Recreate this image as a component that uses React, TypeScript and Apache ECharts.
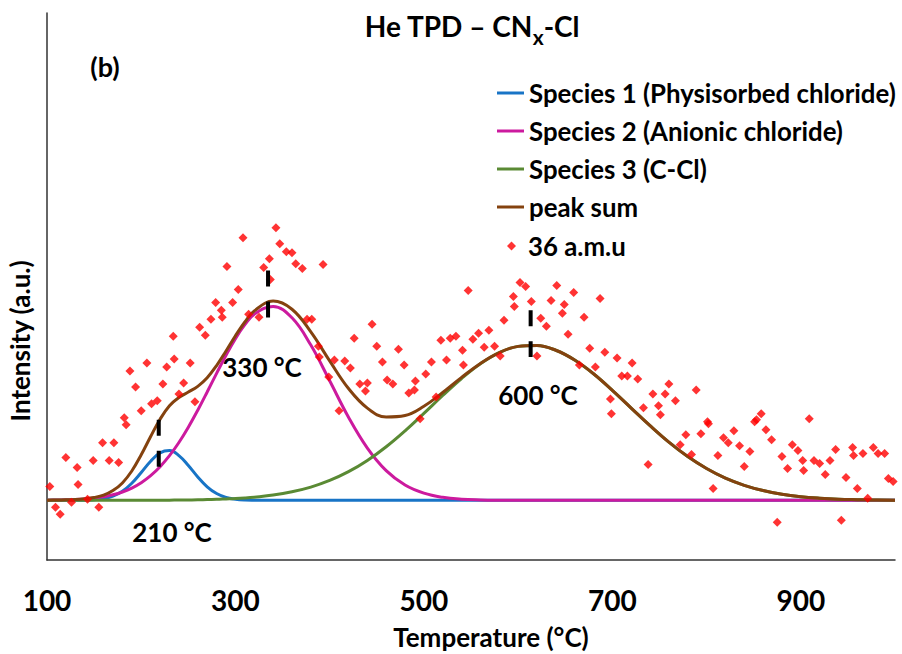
import React, { useEffect, useRef } from "react";
import * as echarts from "echarts";

// Temperature grid (°C) for the fitted curves
const temps = [100,110,120,130,140,150,160,170,180,190,200,210,220,230,240,250,260,270,280,290,300,310,320,340,360,380,400,420,440,460,480,500,520,540,560,580,600,620,640,660,680,700,720,740,760,780,800,820,840,860,880,900,920,940,960,980,1000];

const species1 = [0,0,0,0,0.002,0.006,0.016,0.042,0.091,0.172,0.28,0.393,0.477,0.5,0.45,0.35,0.235,0.136,0.068,0.029,0.011,0.003,0.001,
  0,0,0,0,0,0,0,0,0,0,0,0,0,0,0,0,0,0,0,0,0,0,0,0,0,0,0,0,0,0,0,0,0,0];

const species2 = [0.002,0.003,0.005,0.008,0.014,0.023,0.036,0.056,0.084,0.123,0.177,0.248,0.338,0.449,0.581,0.735,0.906,1.089,1.277,1.459,1.626,1.766,1.872,
  1.95,1.835,1.561,1.202,0.836,0.526,0.299,0.154,0.072,0.03,0.011,0.004,0.001,
  0,0,0,0,0,0,0,0,0,0,0,0,0,0,0,0,0,0,0,0,0];

const species3 = [0,0,0,0,0,0,0,0,0,0,0.001,0.001,0.001,0.002,0.003,0.004,0.005,0.008,0.01,0.014,0.018,0.024,0.032,
  0.053,0.086,0.133,0.2,0.288,0.401,0.539,0.699,0.874,1.054,1.225,1.373,1.485,1.548,1.557,1.509,1.411,1.273,1.106,0.928,0.751,0.585,0.44,0.32,0.223,0.151,0.098,0.061,0.037,0.022,0.012,0.007,0.003,0.002];

// 36 a.m.u measured points [temperature, intensity]
const amuPoints = [
  [103,0.14],[109,-0.07],[114,-0.14],[120,0.43],[126,-0.02],[132,0.33],[133,0.16],[143,0.01],[149,0.40],[155,-0.07],
  [159,0.58],[166,0.40],[171,0.58],[176,0.38],[182,0.83],[184,0.76],[188,1.30],[194,1.14],[200,0.90],[206,1.38],
  [211,0.97],[217,1.00],[223,1.17],[227,1.34],[234,1.65],[235,1.42],[240,1.07],[245,1.18],[252,1.38],[257,0.99],
  [262,1.74],[268,1.66],[274,1.82],[279,1.99],[285,1.91],[286,1.84],[291,2.35],[297,1.99],[303,2.12],[308,2.64],
  [314,1.87],[325,1.84],[330,2.34],[336,2.43],[337,2.22],[343,2.74],[347,2.58],[354,2.50],[360,2.49],[364,2.38],
  [371,2.33],[376,1.82],[381,1.82],[388,1.55],[389,1.44],[393,2.37],[399,1.24],[405,1.41],[410,0.90],[416,1.40],
  [422,1.33],[426,1.63],[432,1.17],[438,1.10],[440,1.18],[445,1.77],[450,1.55],[456,1.39],[461,1.21],[467,1.17],
  [473,1.52],[479,1.36],[484,1.08],[490,1.11],[491,1.20],[496,0.82],[502,1.27],[508,1.39],[513,1.04],[518,1.61],
  [524,1.41],[528,1.63],[534,1.65],[541,1.51],[542,1.36],[547,2.11],[552,1.62],[558,1.68],[564,1.54],[569,1.71],
  [575,1.55],[581,1.45],[585,1.81],[595,2.05],[596,1.95],[602,2.19],[608,2.15],[614,2.00],[620,1.45],[624,1.83],
  [630,1.75],[635,2.01],[641,2.16],[647,1.88],[649,1.97],[653,1.67],[659,2.09],[665,1.36],[670,1.84],[676,1.53],
  [682,1.34],[687,2.03],[692,1.49],[698,1.02],[699,0.87],[705,1.43],[710,1.25],[716,1.25],[721,1.38],[727,1.22],
  [733,0.93],[738,0.36],[743,1.07],[749,0.95],[751,0.86],[756,1.07],[760,1.17],[767,1.00],[772,0.56],[778,0.66],
  [784,0.46],[789,1.11],[794,0.67],[801,0.79],[802,0.77],[807,0.12],[812,0.45],[818,0.63],[823,0.58],[829,0.70],
  [835,0.55],[840,0.34],[846,0.49],[851,0.79],[853,0.81],[858,0.87],[863,0.71],[869,0.61],[875,-0.22],[880,0.44],
  [886,0.32],[891,0.56],[897,0.50],[902,0.40],[903,0.30],[909,0.82],[914,0.40],[920,0.37],[926,0.26],[931,0.40],
  [937,0.51],[943,-0.20],[948,0.23],[955,0.53],[956,0.45],[960,0.12],[966,0.47],[971,0.02],[977,0.53],[982,0.47],
  [989,0.47],[993,0.22],[998,0.19]
];

// Dashed peak markers: temperature, top, bottom
const peakMarkers = [
  [218.6, 0.81, 0.33],
  [334.6, 2.31, 1.83],
  [613.3, 1.91, 1.44],
];
const peakLabels = ["210 °C", "330 °C", "600 °C"];

const xTicks = [100, 300, 500, 700, 900];

const seriesNames = [
  "Species 1 (Physisorbed chloride)",
  "Species 2 (Anionic chloride)",
  "Species 3 (C-Cl)",
  "peak sum",
];
const scatterName = "36 a.m.u";
const colors = ["#1874C6", "#CC1A9E", "#5A8A34", "#84420F"];

const FONT = "Lato, 'Open Sans', sans-serif";

export default function App() {
  const ref = useRef<HTMLDivElement>(null);
  useEffect(() => {
    document.body.style.margin = "0";
    const chart = echarts.init(ref.current!, null, { renderer: "svg" });
    const peakSum = temps.map((_, i) => species1[i] + species2[i] + species3[i]);
    const curves = [species1, species2, species3, peakSum];
    const lineSeries = curves.map((vals, k) => ({
      name: seriesNames[k],
      type: "line",
      data: temps.map((t, i) => [t, vals[i]]),
      smooth: 0.4,
      symbol: "none",
      lineStyle: { width: 3, color: colors[k] },
      itemStyle: { color: colors[k] },
      z: 2 + k,
    }));
    const markerSeries = peakMarkers.map((m) => ({
      type: "line",
      data: [[m[0], m[1]], [m[0], m[2]]],
      symbol: "none",
      lineStyle: { width: 4, color: "#000", type: [16, 15] },
      z: 10,
      silent: true,
    }));
    const labelPos = [[172, 532], [262, 367], [538, 395]];
    const legendText = { fontFamily: FONT, fontWeight: "bold", fontSize: 25.8, color: "#000", lineHeight: 26 };
    chart.setOption({
      animation: false,
      grid: { left: 47, right: 7, top: 13, bottom: 94 },
      xAxis: {
        type: "value",
        min: 100,
        max: 1000,
        interval: 200,
        axisLine: { show: true, onZero: false, lineStyle: { color: "#333", width: 1.5 } },
        axisTick: { show: false },
        splitLine: { show: false },
        axisLabel: {
          showMaxLabel: false,
          margin: 26,
          fontFamily: FONT,
          fontWeight: "bold",
          fontSize: 28,
          color: "#000",
          formatter: (v: number) => (xTicks.includes(v) ? String(v) : ""),
        },
      },
      yAxis: {
        type: "value",
        min: -0.6,
        max: 4.9,
        axisLine: { show: true, onZero: false, lineStyle: { color: "#333", width: 1.5 } },
        axisTick: { show: false },
        axisLabel: { show: false },
        splitLine: { show: false },
      },
      legend: [
        {
          data: seriesNames.map((n) => ({ name: n, icon: "rect" })),
          orient: "vertical",
          left: 492,
          top: 75,
          itemWidth: 27,
          itemHeight: 3,
          itemGap: 12,
          textStyle: legendText,
        },
        {
          data: [{ name: scatterName, icon: "diamond" }],
          orient: "vertical",
          left: 502,
          top: 228,
          itemWidth: 9,
          itemHeight: 9,
          textStyle: { ...legendText, padding: [0, 0, 0, 7] },
        },
      ],
      series: [
        ...lineSeries,
        {
          name: scatterName,
          type: "scatter",
          data: amuPoints,
          symbol: "diamond",
          symbolSize: 9,
          itemStyle: { color: "#FF0000" },
          z: 8,
        },
        ...markerSeries,
      ],
      graphic: [
        {
          type: "text",
          x: 472,
          y: 26,
          style: {
            text: "{a|He TPD – CN}{s|x}{a|-Cl}",
            align: "center",
            verticalAlign: "middle",
            rich: {
              a: { fontFamily: FONT, fontWeight: "bold", fontSize: 28, lineHeight: 30, fill: "#000" },
              s: { fontFamily: FONT, fontWeight: "bold", fontSize: 21, lineHeight: 21, padding: [20, 0, 0, 0], fill: "#000" },
            },
          },
        },
        {
          type: "text",
          x: 105,
          y: 66,
          style: { text: "(b)", align: "center", verticalAlign: "middle", fontFamily: FONT, fontWeight: "bold", fontSize: 27, fill: "#000" },
        },
        ...peakLabels.map((t, i) => ({
          type: "text",
          x: labelPos[i][0],
          y: labelPos[i][1],
          style: { text: t, align: "center", verticalAlign: "middle", fontFamily: FONT, fontWeight: "bold", fontSize: 26, fill: "#000" },
        })),
        {
          type: "text",
          x: 20,
          y: 341,
          rotation: Math.PI / 2,
          style: { text: "Intensity (a.u.)", align: "center", verticalAlign: "middle", fontFamily: FONT, fontWeight: "bold", fontSize: 26, fill: "#000" },
        },
        {
          type: "text",
          x: 491,
          y: 637,
          style: { text: "Temperature (°C)", align: "center", verticalAlign: "middle", fontFamily: FONT, fontWeight: "bold", fontSize: 26, fill: "#000" },
        },
      ],
    });
    return () => chart.dispose();
  }, []);
  return <div ref={ref} style={{ width: 902, height: 654 }} />;
}
